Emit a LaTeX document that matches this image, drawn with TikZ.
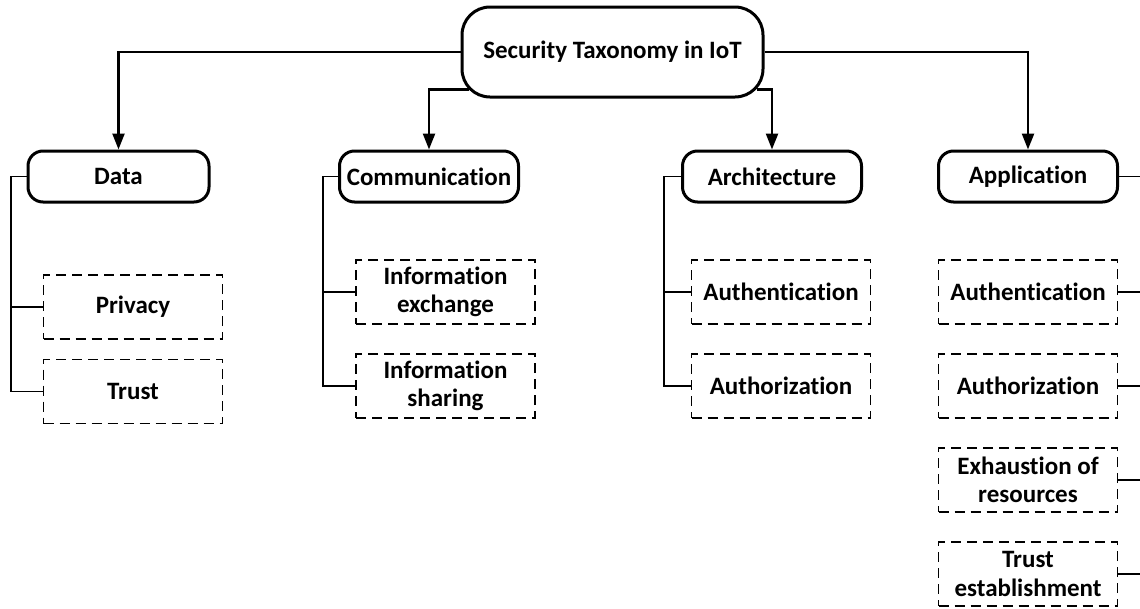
\documentclass[tikz,border=0pt]{standalone}
\usepackage{fontspec}
\setmainfont{Carlito}[RawFeature={-liga}]
\usetikzlibrary{arrows.meta}
\begin{document}
\begin{tikzpicture}[x=1pt,y=-1pt,
  every node/.style={font=\fontsize{25}{28.5}\selectfont\bfseries, inner sep=0pt, align=center},
  rootbox/.style={draw, line width=3pt, rounded corners=28pt, minimum width=301pt, minimum height=90pt},
  catbox/.style={draw, line width=3pt, rounded corners=15pt, minimum width=179pt, minimum height=51pt},
  subbox/.style={draw, line width=1.8pt, dash pattern=on 10pt off 6pt, minimum width=179pt, minimum height=64pt},
  arrowline/.style={line width=2.4pt, -{Triangle[length=16pt,width=12pt]}},
  branch/.style={line width=1.2pt}
]
\useasboundingbox (0,0) rectangle (1140,608);

% root
\node[rootbox] (root) at (612.5,52) {Security Taxonomy in IoT};

% categories
\node[catbox, minimum width=181pt] (data) at (118.5,176.5) {Data};
\node[catbox] (comm) at (429,176.5) {Communication};
\node[catbox] (arch) at (772,176.5) {Architecture};
\node[catbox] (app)  at (1028,176.5) {Application};

% sub boxes
\node[subbox] (priv)  at (133,307) {Privacy};
\node[subbox] (trust) at (133,391.5) {Trust};

\node[subbox] (infex) at (445.5,292) {Information\\exchange};
\node[subbox] (infsh) at (445.5,386) {Information\\sharing};

\node[subbox] (arauth) at (781,292) {Authentication};
\node[subbox] (arauthz) at (781,386) {Authorization};

\node[subbox] (apauth) at (1028,292) {Authentication};
\node[subbox] (apauthz) at (1028,386) {Authorization};
\node[subbox] (apexh) at (1028,480) {Exhaustion of\\resources};
\node[subbox] (aptrust) at (1028,574) {Trust\\establishment};

% arrows from root
\draw[arrowline] (root.west) -| (data.north);
\draw[arrowline] (root.east) -| (app.north);
\draw[arrowline] ([shift={(8,-9)}]root.south west) -| (comm.north);
\draw[arrowline] ([shift={(-8,-9)}]root.south east) -| (arch.north);

% branch spines
\coordinate (dspine) at (11,0);
\coordinate (cspine) at (323,0);
\coordinate (aspine) at (664,0);
\coordinate (edge) at (1141,0);

\draw[branch] (data.west) -- (data.west -| dspine) -- (trust.west -| dspine) -- (trust.west);
\draw[branch] (priv.west -| dspine) -- (priv.west);

\draw[branch] (comm.west) -- (comm.west -| cspine) -- (infsh.west -| cspine) -- (infsh.west);
\draw[branch] (infex.west -| cspine) -- (infex.west);

\draw[branch] (arch.west) -- (arch.west -| aspine) -- (arauthz.west -| aspine) -- (arauthz.west);
\draw[branch] (arauth.west -| aspine) -- (arauth.west);

\draw[branch] (app.east) -- (app.east -| edge);
\draw[branch] (apauth.east) -- (apauth.east -| edge);
\draw[branch] (apauthz.east) -- (apauthz.east -| edge);
\draw[branch] (apexh.east) -- (apexh.east -| edge);
\draw[branch] (aptrust.east) -- (aptrust.east -| edge);
\end{tikzpicture}
\end{document}
